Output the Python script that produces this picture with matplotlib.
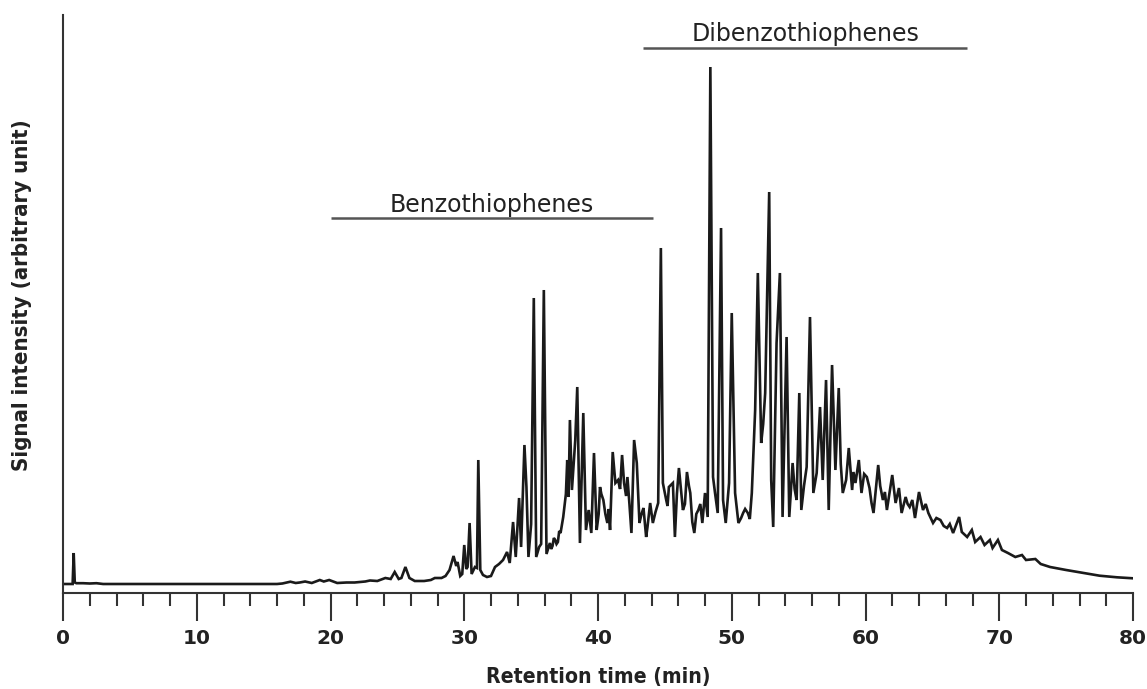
import matplotlib
matplotlib.use("Agg")
import matplotlib.pyplot as plt
from matplotlib.ticker import MultipleLocator

# Retention time (min) and signal (arbitrary units)
time_min = [
    0.0, 0.6, 0.72, 0.8, 0.88, 1.0, 1.5, 2.0, 2.5, 3.0, 16.0,
    16.4, 17.0, 17.4, 17.7, 18.1, 18.6, 19.2, 19.5, 19.9, 20.5, 21.2, 21.8, 22.6, 22.95,
    23.5, 24.1, 24.5, 24.8, 25.1, 25.3, 25.6, 25.9, 26.3, 27.0, 27.5, 27.8, 28.3, 28.6,
    28.9, 29.2, 29.4, 29.5, 29.7, 29.85, 30.0, 30.15, 30.25, 30.4, 30.55, 30.8, 30.95,
    31.05, 31.2, 31.4, 31.7, 32.0, 32.3, 32.6, 32.9, 33.2, 33.4, 33.65, 33.85, 34.1,
    34.25, 34.5, 34.65, 34.8, 35.0, 35.2, 35.38, 35.6, 35.75, 35.95, 36.15, 36.4, 36.5,
    36.6, 36.7, 36.8, 36.9, 37.0, 37.1, 37.2, 37.4, 37.6, 37.7, 37.8, 37.9, 38.05,
    38.3, 38.45, 38.65, 38.9, 39.1, 39.3, 39.5, 39.7, 39.9, 40.05, 40.15, 40.25, 40.4,
    40.55, 40.7, 40.8, 40.9, 41.1, 41.3, 41.5, 41.65, 41.8, 41.95, 42.1, 42.2, 42.35,
    42.5, 42.7, 42.9, 43.1, 43.25, 43.4, 43.6, 43.7, 43.9, 44.1, 44.3, 44.5, 44.7,
    44.85, 45.1, 45.2, 45.3, 45.45, 45.6, 45.75, 45.9, 46.05, 46.2, 46.35, 46.5, 46.65,
    46.8, 46.9, 47.05, 47.2, 47.35, 47.5, 47.65, 47.8, 48.0, 48.2, 48.4, 48.6, 48.75,
    48.95, 49.2, 49.35, 49.55, 49.8, 50.0, 50.25, 50.5, 50.7, 50.85, 51.0, 51.2, 51.35,
    51.5, 51.75, 51.95, 52.2, 52.35, 52.5, 52.8, 52.95, 53.1, 53.35, 53.6, 53.8, 54.1,
    54.3, 54.55, 54.7, 54.85, 55.05, 55.2, 55.4, 55.6, 55.85, 56.1, 56.35, 56.6, 56.8,
    57.05, 57.25, 57.5, 57.75, 58.0, 58.15, 58.3, 58.55, 58.75, 59.0, 59.1, 59.25, 59.5,
    59.7, 59.9, 60.1, 60.3, 60.45, 60.6, 60.95, 61.1, 61.3, 61.45, 61.6, 62.0, 62.25,
    62.5, 62.7, 63.0, 63.15, 63.3, 63.5, 63.7, 64.0, 64.3, 64.5, 64.7, 65.05, 65.3,
    65.6, 65.85, 66.1, 66.3, 66.55, 67.0, 67.2, 67.6, 67.95, 68.2, 68.6, 68.9, 69.3,
    69.5, 69.9, 70.2, 70.65, 71.2, 71.7, 72.0, 72.7, 73.1, 73.8, 75.0, 76.3, 77.5,
    78.8, 80.0,
]
signal = [
    0, 0, 0, 31, 1.5, 0.8, 0.8, 0.5, 0.8, 0, 0,
    0.5, 2.3, 1, 1.5, 2.5, 1, 4, 2.5, 4, 1, 1.5, 1.5, 2.5, 3.5,
    3, 6, 5, 12, 5, 6, 17, 6, 3, 3, 4, 6, 6, 8,
    14, 28, 18, 22, 8, 10, 39, 15, 17, 61, 10, 17, 16,
    124, 14, 9, 7, 8, 17, 20, 24, 32, 21, 62, 27, 86,
    37, 139, 97, 27, 60, 286, 27, 37, 40, 294, 30, 41, 35,
    38, 46, 44, 40, 42, 53, 51, 67, 90, 124, 87, 164, 94,
    144, 197, 41, 171, 54, 74, 51, 131, 54, 70, 97, 90, 84,
    70, 61, 75, 54, 132, 101, 104, 95, 129, 101, 88, 107, 80,
    51, 144, 121, 61, 70, 76, 47, 57, 81, 61, 72, 81, 336,
    101, 84, 78, 97, 99, 101, 47, 90, 116, 95, 74, 80, 112,
    98, 91, 62, 51, 70, 74, 80, 61, 91, 67, 517, 107, 91,
    71, 356, 84, 61, 101, 271, 91, 61, 66, 71, 75, 71, 65,
    91, 174, 311, 141, 160, 191, 392, 104, 57, 241, 311, 67, 247,
    67, 121, 95, 84, 191, 74, 98, 117, 267, 91, 111, 177, 104,
    204, 74, 219, 114, 196, 120, 91, 104, 136, 94, 112, 101, 124,
    91, 110, 107, 96, 81, 71, 119, 98, 84, 92, 74, 109, 81,
    96, 71, 87, 80, 77, 84, 66, 92, 74, 80, 71, 61, 66,
    64, 58, 56, 60, 51, 67, 52, 47, 54, 42, 47, 39, 44,
    36, 44, 34, 31, 27, 29, 24, 25, 20, 17, 14, 11, 8.3,
    6.7, 5.7,
]

# Compound-class annotations: label, start, end (min), bar level, text baseline level
groups = ["Benzothiophenes", "Dibenzothiophenes"]
group_start = [20.0, 43.4]
group_end = [44.1, 67.6]
group_bar = [366, 536]
group_text = [372, 543]

x_major = [0, 10, 20, 30, 40, 50, 60, 70, 80]
x_labels = ["0", "10", "20", "30", "40", "50", "60", "70", "80"]

W, H = 1147, 689
fig = plt.figure(figsize=(W / 100, H / 100), dpi=100)
ax = fig.add_axes([63 / W, 1 - 593 / H, (1133 - 63) / W, (593 - 15) / H])

ax.plot(time_min, signal, color="#1a1a1a", lw=1.9, solid_joinstyle="miter")

for name, s, e, yb, yt in zip(groups, group_start, group_end, group_bar, group_text):
    ax.plot([s, e], [yb, yb], color="#555555", lw=1.8, solid_capstyle="butt")
    ax.text((s + e) / 2, yt, name, ha="center", va="baseline", fontsize=17,
            color="#222222", family="DejaVu Sans")

ax.set_xlim(0, 80)
ax.set_ylim(-9, 569)
for side in ("top", "right"):
    ax.spines[side].set_visible(False)
for side in ("left", "bottom"):
    ax.spines[side].set_color("#333333")
    ax.spines[side].set_linewidth(1.5)

ax.set_xticks(x_major)
ax.set_xticklabels(x_labels)
ax.xaxis.set_minor_locator(MultipleLocator(2))
ax.tick_params(axis="x", which="major", direction="out", length=20, width=1.5,
               color="#333333", pad=6, labelsize=14.5)
ax.tick_params(axis="x", which="minor", direction="out", length=9.5, width=1.5,
               color="#333333")
for lab in ax.get_xticklabels():
    lab.set_fontweight("bold")
    lab.set_color("#222222")
ax.set_yticks([])

fig.text(598 / W, 1 - 677 / H, "Retention time (min)", ha="center", va="center",
         fontsize=15.2, fontweight="bold", color="#222222", fontstretch="condensed",
         family="DejaVu Sans")
fig.text(22 / W, 1 - 295 / H, "Signal intensity (arbitrary unit)", ha="center",
         va="center", rotation=90, fontsize=15.9, fontweight="bold", color="#222222",
         fontstretch="condensed", family="DejaVu Sans")

fig.savefig("out.png", dpi=100, facecolor="white")
